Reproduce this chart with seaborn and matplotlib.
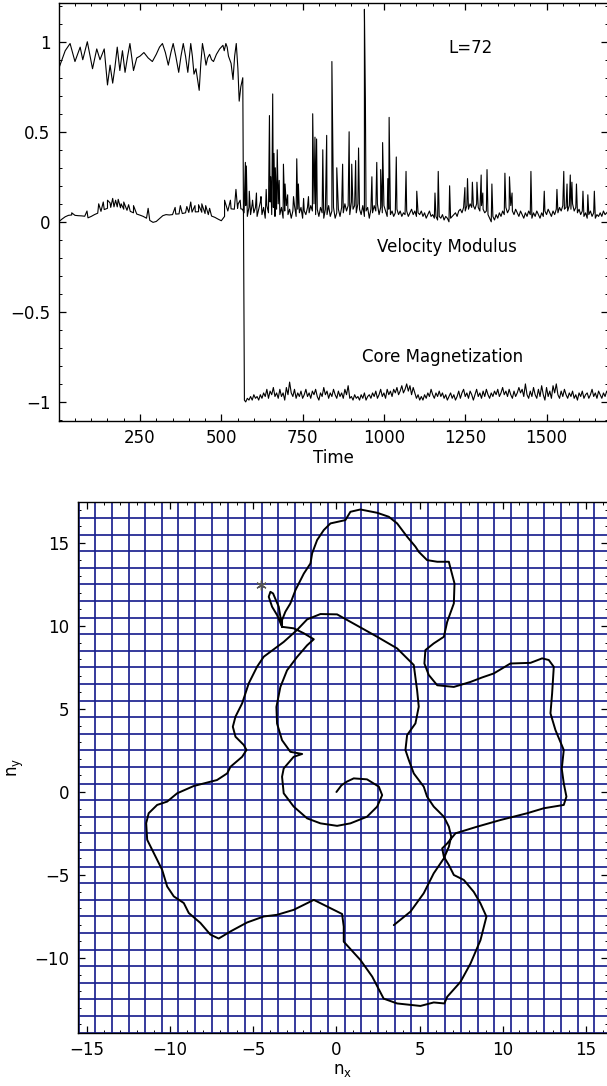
import numpy as np
import pandas as pd
import matplotlib
matplotlib.use("Agg")
import matplotlib.pyplot as plt
from matplotlib.ticker import MultipleLocator, FixedLocator
import seaborn as sns

# ---------------- data: top panel ----------------
# core magnetization before the reversal (time, value)
mag_pre_t = [0, 10, 20, 35, 50, 66, 74, 88, 104, 117, 127, 140, 150, 158, 166, 173, 180, 188,
             196, 204, 212, 219, 230, 240, 250, 262, 275, 288, 300, 310, 319, 328, 337, 345,
             352, 360, 369, 376, 383, 390, 397, 402, 406, 411, 416, 422, 432, 437, 442, 448,
             453, 458, 464, 470, 476, 485, 495, 505, 509, 514, 518, 522, 530, 536, 541, 546,
             551, 555, 560, 566, 571]
mag_pre_v = [0.85, 0.90, 0.95, 0.99, 0.89, 0.97, 0.90, 1.00, 0.85, 0.96, 0.90, 0.96, 0.76, 0.87,
             0.77, 0.86, 0.97, 0.84, 0.95, 0.83, 0.92, 0.99, 0.84, 0.91, 0.92, 0.94, 0.91, 0.89,
             0.93, 0.97, 0.99, 0.94, 0.87, 0.94, 0.99, 0.92, 0.83, 0.92, 0.99, 0.92, 0.83, 0.92,
             0.99, 0.92, 0.82, 0.85, 0.73, 0.88, 0.99, 0.93, 0.87, 0.91, 0.93, 0.90, 0.89, 0.93,
             0.96, 0.98, 0.95, 0.99, 0.97, 0.92, 0.88, 0.79, 0.92, 0.99, 0.85, 0.67, 0.75, 0.80,
             -0.99]
# core magnetization after the reversal, sampled every 5 time units from 575
mag_post_start, mag_post_step = 575, 5
mag_post_v = [
    -1.00, -0.98, -0.99, -0.97, -0.99, -0.96, -0.98, -0.97, -0.99, -0.96,
    -0.98, -0.95, -0.97, -0.93, -0.98, -0.94, -0.96, -0.92, -0.97, -0.95,
    -0.98, -0.93, -0.97, -0.95, -0.99, -0.92, -0.96, -0.89, -0.95, -0.97,
    -0.93, -0.98, -0.95, -0.97, -0.94, -0.98, -0.96, -0.93, -0.97, -0.95,
    -0.98, -0.94, -0.96, -0.93, -0.97, -0.99, -0.95, -0.97, -0.92, -0.96,
    -0.94, -0.98, -0.95, -0.97, -0.93, -0.96, -0.98, -0.94, -0.97, -0.95,
    -0.98, -0.93, -0.96, -0.91, -0.98, -0.97, -0.99, -0.96, -0.98, -0.97,
    -0.99, -0.96, -0.98, -0.95, -0.99, -0.97, -0.96, -0.98, -0.95, -0.97,
    -0.94, -0.98, -0.96, -0.93, -0.97, -0.95, -0.98, -0.93, -0.96, -0.94,
    -0.97, -0.93, -0.95, -0.92, -0.96, -0.94, -0.91, -0.95, -0.93, -0.90,
    -0.94, -0.91, -0.96, -0.92, -0.95, -0.98, -0.96, -0.99, -0.97, -0.99,
    -0.96, -0.98, -0.95, -0.97, -0.93, -0.96, -0.98, -0.95, -0.97, -0.94,
    -0.97, -0.95, -0.98, -0.96, -0.99, -0.97, -0.95, -0.98, -0.96, -0.99,
    -0.97, -0.94, -0.98, -0.95, -0.93, -0.97, -0.95, -0.98, -0.94, -0.96,
    -0.99, -0.96, -0.93, -0.97, -0.95, -0.98, -0.94, -0.97, -0.93, -0.96,
    -0.98, -0.95, -0.97, -0.94, -0.96, -0.93, -0.97, -0.95, -0.92, -0.96,
    -0.94, -0.97, -0.93, -0.96, -0.98, -0.94, -0.97, -0.95, -0.92, -0.95,
    -0.93, -0.97, -0.90, -0.96, -0.98, -0.94, -0.97, -0.92, -0.96, -0.98,
    -0.93, -0.97, -0.91, -0.96, -0.99, -0.92, -0.97, -0.94, -0.98, -0.91,
    -0.95, -0.90, -0.96, -0.98, -0.94, -0.97, -0.93, -0.96, -0.98, -0.95,
    -0.97, -0.94, -0.98, -0.96, -0.99, -0.95, -0.97, -0.94, -0.98, -0.96,
    -0.95, -0.98, -0.96, -0.93, -0.97, -0.95, -0.98, -0.94, -0.96, -0.98,
    -0.95, -0.97, -0.94, -0.96]

# velocity modulus: smooth part (every 10 units from 0) and noisy part (every 5 units from 565)
vel_pre_start, vel_pre_step = 0, 10
vel_pre_v = [0.000, 0.015, 0.028, 0.036, 0.038, 0.036, 0.034, 0.033, 0.031, 0.022,
             0.030, 0.040, 0.048, 0.058, 0.068, 0.075, 0.080, 0.083, 0.083, 0.078,
             0.070, 0.064, 0.058, 0.050, 0.043, 0.037, 0.030, 0.020, 0.008, -0.003,
             0.002, 0.018, 0.034, 0.040, 0.038, 0.040, 0.043, 0.044, 0.046, 0.050,
             0.052, 0.054, 0.055, 0.056, 0.053, 0.046, 0.040, 0.032, 0.025, 0.015,
             0.006, 0.030, 0.060, 0.072, 0.070, 0.075, 0.072]
vel_post_start, vel_post_step = 565, 5
vel_post_v = [
    0.07, 0.05, 0.09, 0.03, 0.08, 0.04, 0.10, 0.05, 0.08, 0.03,
    0.07, 0.11, 0.04, 0.08, 0.02, 0.09, 0.05, 0.11, 0.04, 0.08,
    0.03, 0.07, 0.10, 0.04, 0.08, 0.02, 0.06, 0.09, 0.04, 0.07,
    0.02, 0.06, 0.09, 0.03, 0.07, 0.05, 0.08, 0.02, 0.06, 0.04,
    0.08, 0.05, 0.09, 0.06, 0.10, 0.04, 0.07, 0.03, 0.08, 0.05,
    0.02, 0.07, 0.04, 0.09, 0.03, 0.06, 0.08, 0.02, 0.05, 0.07,
    0.03, 0.08, 0.05, 0.10, 0.06, 0.09, 0.04, 0.11, 0.07, 0.09,
    0.05, 0.10, 0.07, 0.04, 0.09, 0.03, 0.06, 0.08, 0.02, 0.07,
    0.05, 0.09, 0.06, 0.10, 0.04, 0.08, 0.05, 0.09, 0.06, 0.03,
    0.07, 0.04, 0.06, 0.03, 0.05, 0.07, 0.04, 0.06, 0.03, 0.05,
    0.04, 0.06, 0.03, 0.05, 0.07, 0.04, 0.06, 0.03, 0.05, 0.04,
    0.06, 0.03, 0.05, 0.02, 0.04, 0.06, 0.03, 0.04, 0.02, 0.03,
    0.01, 0.03, 0.02, 0.04, 0.01, 0.03, 0.02, 0.00, 0.02, 0.03,
    0.04, 0.05, 0.03, 0.06, 0.07, 0.05, 0.08, 0.06, 0.09, 0.07,
    0.10, 0.08, 0.09, 0.07, 0.10, 0.08, 0.06, 0.09, 0.07, 0.05,
    0.06, 0.04, 0.02, 0.00, 0.03, 0.01, 0.04, 0.02, 0.05, 0.03,
    0.06, 0.04, 0.08, 0.05, 0.07, 0.09, 0.06, 0.04, 0.07, 0.05,
    0.03, 0.06, 0.04, 0.02, 0.05, 0.03, 0.06, 0.04, 0.02, 0.05,
    0.03, 0.06, 0.04, 0.02, 0.05, 0.03, 0.06, 0.04, 0.07, 0.05,
    0.03, 0.06, 0.04, 0.07, 0.05, 0.08, 0.06, 0.09, 0.07, 0.08,
    0.06, 0.09, 0.07, 0.10, 0.06, 0.08, 0.05, 0.07, 0.04, 0.06,
    0.03, 0.05, 0.02, 0.04, 0.06, 0.03, 0.05, 0.02, 0.04, 0.03,
    0.05, 0.03, 0.06, 0.04, 0.05, 0.06]
# velocity spikes (time, peak value)
spike_t = [40, 87, 123, 137, 150, 158, 166, 175, 183, 192, 200, 215, 230, 275, 358, 374, 394,
           406, 419, 430, 440, 452, 464, 510, 528, 545, 552, 558,
           574, 577, 586, 596, 608, 622, 638, 648, 652, 658, 662, 666, 672, 678, 691, 696, 704,
           722, 732, 737, 753, 768, 781, 788, 793, 812, 824, 840, 855, 873, 893, 901, 913, 922,
           940, 943, 963, 978, 990, 996, 1012, 1016, 1038, 1068, 1101, 1157, 1167, 1202, 1249,
           1257, 1272, 1286, 1299, 1304, 1317, 1332, 1372, 1386, 1394, 1452, 1493, 1532, 1553,
           1563, 1573, 1578, 1592, 1612, 1627, 1647]
spike_v = [0.05, 0.06, 0.10, 0.11, 0.12, 0.105, 0.13, 0.12, 0.125, 0.10, 0.11, 0.095, 0.09, 0.075,
           0.08, 0.09, 0.085, 0.11, 0.09, 0.095, 0.10, 0.09, 0.075, 0.12, 0.12, 0.18, 0.10, 0.12,
           0.33, 0.31, 0.17, 0.12, 0.16, 0.14, 0.18, 0.59, 0.25, 0.71, 0.38, 0.30, 0.40, 0.23,
           0.32, 0.21, 0.15, 0.14, 0.35, 0.21, 0.13, 0.14, 0.60, 0.47, 0.46, 0.40, 0.48, 0.89,
           0.30, 0.32, 0.50, 0.32, 0.34, 0.41, 1.18, 0.68, 0.25, 0.33, 0.29, 0.44, 0.24, 0.58,
           0.36, 0.28, 0.17, 0.16, 0.28, 0.20, 0.19, 0.24, 0.22, 0.22, 0.26, 0.16, 0.29, 0.21,
           0.27, 0.25, 0.16, 0.28, 0.17, 0.18, 0.28, 0.21, 0.26, 0.22, 0.21, 0.17, 0.15, 0.17]

xtick_top = [250, 500, 750, 1000, 1250, 1500]
ytick_top = [-1, -0.5, 0, 0.5, 1]
ytick_top_labels = ["\u22121", "\u22120.5", "0", "0.5", "1"]

# ---------------- data: bottom panel (trajectory of the core) ----------------
traj_x = [0.00, 0.30, 0.62, 1.04, 1.84, 2.55, 2.75, 2.45, 1.84, 0.84, 0.04, -0.96, -1.76, -2.57,
          -3.17, -3.27, -3.17, -2.57, -2.06, -2.77, -3.27, -3.57, -3.61, -3.37, -2.97, -2.37,
          -1.76, -1.36, -1.96, -2.57, -3.27, -3.37, -3.47, -3.81, -3.97, -4.07, -3.87, -3.57,
          -3.27, -3.27, -3.07, -2.77, -2.46, -1.96, -1.56, -1.46, -1.16, -0.76, -0.36, 0.04,
          0.54, 0.84, 1.44, 2.45, 3.15, 3.65, 4.25, 4.75, 4.95, 5.45, 6.06, 6.76, 6.81, 7.10,
          7.06, 6.66, 6.46, 5.85, 5.35, 5.29, 5.55, 6.06, 7.06, 8.06, 8.76, 9.46, 10.46, 11.67,
          12.37, 12.77, 13.07, 12.97, 12.87, 13.17, 13.67, 13.55, 13.67, 13.83, 13.67, 12.47,
          11.47, 9.86, 8.46, 7.16, 6.66, 6.36, 6.46, 6.76, 7.06, 7.66, 8.26, 8.66, 9.02, 8.66,
          8.06, 7.46, 6.66, 6.49, 5.85, 5.05, 3.65, 2.84, 2.15, 1.44, 0.44, 0.44, 0.34, -0.36,
          -1.36, -1.56, -2.57, -3.57, -4.37, -5.37, -6.37, -7.08, -7.58, -8.18, -8.88, -9.18,
          -9.78, -10.18, -10.48, -10.88, -11.38, -11.44, -11.29, -10.78, -10.18, -9.58, -8.58,
          -7.18, -6.57, -6.37, -5.67, -5.41, -5.57, -6.07, -6.23, -6.07, -5.67, -5.27, -4.77,
          -4.37, -3.17, -2.37, -1.76, -0.96, 0.04, 0.84, 2.45, 3.65, 4.65, 4.85, 4.95, 4.75,
          4.25, 4.15, 4.35, 4.65, 5.25, 5.45, 5.85, 6.46, 6.76, 6.90, 6.76, 6.46, 5.85, 5.25,
          4.45, 3.45]
traj_y = [0.00, 0.40, 0.62, 0.82, 0.76, 0.32, -0.19, -0.88, -1.49, -1.89, -2.04, -1.89, -1.59,
          -0.88, -0.08, 0.92, 1.42, 2.12, 2.29, 2.42, 3.12, 4.12, 5.12, 6.33, 7.33, 8.13, 8.84,
          9.20, 9.56, 9.86, 9.95, 10.56, 11.16, 11.96, 12.06, 11.76, 11.16, 10.66, 9.95, 10.36,
          10.86, 11.36, 12.17, 13.16, 13.77, 14.38, 15.18, 15.78, 16.18, 16.27, 16.38, 16.88,
          17.02, 16.82, 16.58, 16.18, 15.38, 14.78, 14.47, 13.97, 13.87, 13.87, 13.67, 12.56,
          11.36, 10.25, 9.35, 8.95, 8.55, 7.74, 7.05, 6.43, 6.33, 6.63, 6.90, 7.14, 7.74, 7.78,
          8.05, 7.95, 7.54, 5.94, 4.74, 3.73, 2.53, 1.40, 0.52, -0.28, -0.78, -0.98, -1.28,
          -1.69, -2.09, -2.49, -3.10, -3.40, -3.90, -4.40, -5.00, -5.30, -6.02, -6.71, -7.51,
          -8.93, -10.34, -11.44, -12.34, -12.74, -12.68, -12.89, -12.74, -12.45, -11.12, -10.12,
          -9.02, -8.11, -7.35, -7.00, -6.50, -6.60, -7.10, -7.40, -7.50, -7.86, -8.40, -8.83,
          -8.59, -7.89, -7.29, -6.69, -6.29, -5.69, -4.69, -3.88, -2.88, -1.88, -1.28, -0.78,
          -0.58, -0.08, 0.36, 0.72, 1.12, 1.52, 2.12, 2.53, 2.83, 3.33, 3.93, 4.54, 5.34, 6.55,
          7.55, 8.15, 9.04, 9.76, 10.40, 10.72, 10.70, 10.25, 9.35, 8.65, 7.65, 6.14, 5.14,
          4.13, 3.43, 2.53, 1.93, 1.12, 0.32, -0.28, -0.88, -1.49, -2.09, -2.69, -3.30, -4.00,
          -4.90, -6.10, -7.21, -8.02]
star_x = [-4.55]
star_y = [12.47]
xtick_bot = [-15, -10, -5, 0, 5, 10, 15]
ytick_bot = [-10, -5, 0, 5, 10, 15]

# ---------------- build frames ----------------
mag_df = pd.concat([
    pd.DataFrame({"t": mag_pre_t, "v": mag_pre_v}),
    pd.DataFrame({"t": mag_post_start + mag_post_step * np.arange(len(mag_post_v)), "v": mag_post_v}),
], ignore_index=True)
vel_df = pd.concat([
    pd.DataFrame({"t": vel_pre_start + vel_pre_step * np.arange(len(vel_pre_v)), "v": vel_pre_v}),
    pd.DataFrame({"t": vel_post_start + vel_post_step * np.arange(len(vel_post_v)), "v": vel_post_v}),
    pd.DataFrame({"t": spike_t, "v": spike_v}),
], ignore_index=True).sort_values("t", kind="stable").reset_index(drop=True)
traj_df = pd.DataFrame({"nx": traj_x, "ny": traj_y})

# ---------------- style ----------------
sns.set_theme(style="ticks")
plt.rcParams["font.family"] = ["DejaVu Sans"]
plt.rcParams["axes.linewidth"] = 1.0
plt.rcParams["axes.edgecolor"] = "black"
plt.rcParams["text.color"] = "black"
plt.rcParams["axes.labelcolor"] = "black"
plt.rcParams["xtick.color"] = "black"
plt.rcParams["ytick.color"] = "black"
plt.rcParams["xtick.labelcolor"] = "black"
plt.rcParams["ytick.labelcolor"] = "black"

W, H = 607, 1086
fig = plt.figure(figsize=(W / 100, H / 100), dpi=100)

# ---------------- top panel ----------------
ax1 = fig.add_axes([58.7 / W, 1 - 421 / H, (608 - 58.7) / W, 418 / H])
sns.lineplot(data=mag_df, x="t", y="v", ax=ax1, color="black", linewidth=0.8,
             estimator=None, sort=False)
sns.lineplot(data=vel_df, x="t", y="v", ax=ax1, color="black", linewidth=0.8,
             estimator=None, sort=False)
ax1.set_xlim(0, 1689)
ax1.set_ylim(-1.106, 1.215)
ax1.xaxis.set_major_locator(FixedLocator(xtick_top))
ax1.xaxis.set_minor_locator(MultipleLocator(50))
ax1.yaxis.set_major_locator(FixedLocator(ytick_top))
ax1.set_yticklabels(ytick_top_labels)
ax1.yaxis.set_minor_locator(MultipleLocator(0.1))
ax1.set_xlabel("Time", fontsize=12, labelpad=1, color="black")
ax1.set_ylabel("")
ax1.text(1265, 0.965, "L=72", fontsize=12, ha="center", va="center", color="black")
ax1.text(1194, -0.14, "Velocity Modulus", fontsize=12, ha="center", va="center", color="black")
ax1.text(1180, -0.75, "Core Magnetization", fontsize=12, ha="center", va="center", color="black")

# ---------------- bottom panel ----------------
ax2 = fig.add_axes([78 / W, 1 - 1033 / H, 530 / W, 531 / H])
ax2.set_xlim(-15.54, 16.33)
ax2.set_ylim(-14.52, 17.47)
grid_pos = np.arange(-15.5, 17.0, 1.0)
ax2.vlines(grid_pos, -14.52, 17.47, colors="#1c2290", linewidth=1.25, zorder=1)
ax2.hlines(grid_pos, -15.54, 16.33, colors="#1c2290", linewidth=1.25, zorder=1)
sns.lineplot(data=traj_df, x="nx", y="ny", ax=ax2, color="black", linewidth=1.4,
             estimator=None, sort=False, zorder=3)
ax2.scatter(star_x, star_y, marker=(6, 2, 0), s=45, color="#555555", linewidths=1.0, zorder=4)
ax2.xaxis.set_major_locator(FixedLocator(xtick_bot))
ax2.xaxis.set_minor_locator(MultipleLocator(1))
ax2.yaxis.set_major_locator(FixedLocator(ytick_bot))
ax2.yaxis.set_minor_locator(MultipleLocator(1))
ax2.set_xlabel(r"$\mathregular{n_x}$", fontsize=12, labelpad=1, color="black")
ax2.set_ylabel(r"$\mathregular{n_y}$", fontsize=12, labelpad=6, color="black")

for ax in (ax1, ax2):
    ax.tick_params(which="both", direction="in", top=True, right=True, labeltop=False,
                   labelright=False, colors="black", labelsize=12)
    ax.tick_params(which="major", length=5, width=0.9, pad=6)
    ax.tick_params(which="minor", length=2.5, width=0.7)
    for s in ax.spines.values():
        s.set_color("black")
        s.set_linewidth(1.0)
        s.set_zorder(5)

fig.savefig("out.png", dpi=100, facecolor="white")
